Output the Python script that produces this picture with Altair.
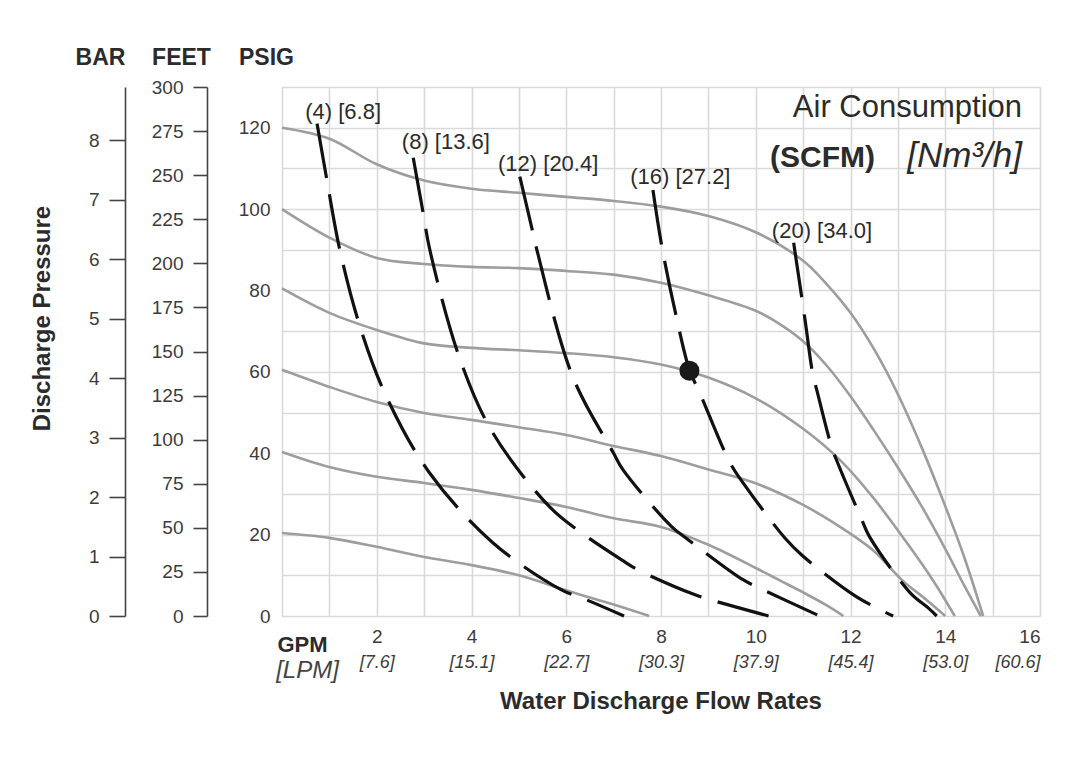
import altair as alt
import pandas as pd

FONT = "Liberation Sans"
INK = "#2b2b2b"
LABEL_INK = "#3c3c3c"

# ---- Pump performance curves (inlet air pressure, psig): flow (GPM) vs discharge (PSIG)
P20_GPM = [0, 1, 2, 3, 4, 5, 6, 7, 7.75]
P20_PSI = [20.4, 19.2, 17.0, 14.5, 12.5, 10.0, 6.3, 2.8, 0]
P40_GPM = [0, 1, 2, 3, 4, 5, 6, 7, 8, 9, 10, 10.5, 11, 11.5, 11.85]
P40_PSI = [40.3, 36.6, 34.2, 32.7, 31.0, 29.0, 26.8, 24.0, 21.9, 17.5, 11.8, 8.8, 5.8, 2.6, 0]
P60_GPM = [0, 1, 2, 3, 4, 5, 6, 7, 8, 9, 10, 11, 11.78, 12.47, 13.1, 13.6, 14.0]
P60_PSI = [60.5, 56.3, 52.6, 49.9, 48.2, 46.4, 44.5, 41.8, 39.3, 36.0, 32.6, 27.3, 21.9, 16.2, 8.7, 4.0, 0]
P80_GPM = [0, 1, 2, 3, 4, 5, 6, 7, 8, 9, 10, 11, 11.78, 12.47, 13.19, 13.74, 14.2]
P80_PSI = [80.5, 74.5, 70.3, 67.0, 65.9, 65.3, 64.6, 63.6, 61.8, 58.6, 53.5, 46.0, 38.3, 29.2, 18.0, 8.8, 0]
P100_GPM = [0, 1, 2, 3, 4, 5, 6, 7, 8, 9, 10, 10.5, 11, 11.5, 12, 12.5, 13, 13.5, 14, 14.4, 14.75]
P100_PSI = [100, 93.0, 88.0, 86.5, 85.8, 85.5, 84.8, 83.9, 81.9, 78.8, 75.0, 71.8, 67.5, 61.5, 54.0, 45.5, 36.5, 27.0, 16.5, 7.5, 0]
P120_GPM = [0, 1, 2, 3, 4, 5, 6, 7, 8, 9, 10, 11, 11.5, 12, 12.5, 13, 13.5, 14, 14.4, 14.8]
P120_PSI = [120, 117.3, 111.0, 107.0, 105.0, 104.0, 103.0, 102.0, 100.6, 98.3, 94.3, 87.3, 81.5, 74.5, 65.5, 54.5, 41.5, 27.0, 14.5, 0]

# ---- Air consumption curves (SCFM)
A4_GPM = [0.74, 0.95, 1.22, 1.65, 2.2, 3.1, 4.45, 5.9, 6.36, 7.22]
A4_PSI = [121, 107, 90, 71, 54, 35.4, 18, 6.4, 4.3, 0]
A8_GPM = [2.77, 2.98, 3.12, 3.76, 4.45, 5.65, 6.29, 7.17, 7.52, 8.72, 9.07, 10.27]
A8_PSI = [112.6, 99, 90, 63, 45, 26.8, 20.7, 13.8, 11.3, 5.2, 3.9, 0]
A12_GPM = [5.02, 5.3, 5.38, 6.14, 7.0, 7.2, 8.23, 8.58, 9.74, 10.09, 11.35]
A12_PSI = [108, 94, 90, 58.7, 40, 35.9, 21.9, 18.7, 8.85, 6.8, 0]
A16_GPM = [7.83, 8.02, 8.33, 8.6, 8.82, 9.46, 9.74, 10.62, 10.97, 12.13, 12.9]
A16_PSI = [104.7, 90.7, 73.2, 60.5, 54.8, 37.6, 32.6, 19.1, 15, 4.7, 0]
A20_GPM = [10.8, 11.04, 11.2, 11.3, 11.6, 11.73, 12.24, 12.4, 13.26, 13.64, 13.82]
A20_PSI = [91.7, 72.8, 59.7, 55, 41.6, 37.6, 23.6, 19.5, 5.7, 2, 0]

AIR_LABELS = ["(4) [6.8]", "(8) [13.6]", "(12) [20.4]", "(16) [27.2]", "(20) [34.0]"]
AIR_LABEL_GPM = [0.49, 2.53, 4.56, 7.35, 10.34]
AIR_LABEL_PSI = [123.9, 116.5, 111.0, 107.9, 94.6]

POINT_GPM = [8.6]
POINT_PSI = [60.3]

# ---- Axis ticks
GPM_GRID = list(range(0, 17))
GPM_TICKS = [2, 4, 6, 8, 10, 12, 14, 16]
LPM_LABELS = ["[7.6]", "[15.1]", "[22.7]", "[30.3]", "[37.9]", "[45.4]", "[53.0]", "[60.6]"]
PSIG_GRID = list(range(0, 131, 10))
FEET_TICKS = list(range(0, 301, 25))
BAR_TICKS = list(range(0, 9))

# ---- Captions inside plot
CAPTION_MAIN = ["Air Consumption"]
CAPTION_UNIT_BOLD = ["(SCFM)"]
CAPTION_UNIT_ITALIC = ["[Nm\u00b3/h]"]

perf_rows = []
for name, xs, ys in [("20", P20_GPM, P20_PSI), ("40", P40_GPM, P40_PSI), ("60", P60_GPM, P60_PSI),
                     ("80", P80_GPM, P80_PSI), ("100", P100_GPM, P100_PSI), ("120", P120_GPM, P120_PSI)]:
    for i, (x, y) in enumerate(zip(xs, ys)):
        perf_rows.append({"series": name, "gpm": x, "psi": y, "i": i})
perf_df = pd.DataFrame(perf_rows)

air_rows = []
for name, xs, ys in [("4", A4_GPM, A4_PSI), ("8", A8_GPM, A8_PSI), ("12", A12_GPM, A12_PSI),
                     ("16", A16_GPM, A16_PSI), ("20", A20_GPM, A20_PSI)]:
    for i, (x, y) in enumerate(zip(xs, ys)):
        air_rows.append({"series": name, "gpm": x, "psi": y, "i": i})
air_df = pd.DataFrame(air_rows)

labels_df = pd.DataFrame({"label": AIR_LABELS, "gpm": AIR_LABEL_GPM, "psi": AIR_LABEL_PSI})
point_df = pd.DataFrame({"gpm": POINT_GPM, "psi": POINT_PSI})

X_SCALE = alt.Scale(domain=[0, 16], nice=False, zero=False)
Y_SCALE = alt.Scale(domain=[0, 130], nice=False)
NOX = alt.X("gpm:Q", scale=X_SCALE, axis=None)
NOY = alt.Y("psi:Q", scale=Y_SCALE, axis=None)

gpm_axis = alt.Axis(
    values=GPM_GRID, grid=True, gridColor="#dadada", gridWidth=1.6,
    ticks=False, domain=False, labelPadding=11, labelFontSize=19, labelFont=FONT,
    labelColor=LABEL_INK, labelOverlap=False,
    labelExpr="(datum.value % 2 == 0 && datum.value > 0) ? datum.label : ''",
    title="GPM", titleFont=FONT, titleFontSize=22, titleFontWeight="bold", titleColor=INK,
    titleAngle=0, titleX=20, titleY=28, titleAlign="center", titleBaseline="middle",
)
psig_axis = alt.Axis(
    orient="left", values=PSIG_GRID, grid=True, gridColor="#dadada", gridWidth=1.6,
    ticks=False, domain=False, labelPadding=12, labelFontSize=19, labelFont=FONT,
    labelColor=LABEL_INK, labelOverlap=False,
    labelExpr="(datum.value % 20 == 0 && datum.value <= 120) ? datum.label : ''",
    title="PSIG", titleFont=FONT, titleFontSize=23, titleFontWeight="bold", titleColor=INK,
    titleAngle=0, titleX=-16, titleY=-30, titleAlign="center", titleBaseline="middle",
)

perf = alt.Chart(perf_df).mark_line(
    interpolate="catmull-rom", color="#9d9d9d", strokeWidth=2.6
).encode(
    x=alt.X("gpm:Q", scale=X_SCALE, axis=gpm_axis),
    y=alt.Y("psi:Q", scale=Y_SCALE, axis=psig_axis),
    detail="series:N", order="i:Q",
)

air = alt.Chart(air_df).mark_line(
    interpolate="catmull-rom", color="#111111", strokeWidth=3.2, strokeDash=[55, 17]
).encode(x=NOX, y=NOY, detail="series:N", order="i:Q")

dot = alt.Chart(point_df).mark_point(
    shape="circle", filled=True, size=400, color="#1a1a1a", opacity=1
).encode(x=NOX, y=NOY)

air_labels = alt.Chart(labels_df).mark_text(
    align="left", baseline="middle", font=FONT, fontSize=22, color=INK
).encode(x=NOX, y=NOY, text="label:N")

cap1 = alt.Chart(pd.DataFrame({"t": CAPTION_MAIN, "gpm": [15.62], "psi": [122.6]})).mark_text(
    align="right", baseline="alphabetic", font=FONT, fontSize=31, color=INK
).encode(x=NOX, y=NOY, text="t:N")
cap2 = alt.Chart(pd.DataFrame({"t": CAPTION_UNIT_BOLD, "gpm": [10.3], "psi": [110.3]})).mark_text(
    align="left", baseline="alphabetic", font=FONT, fontSize=30, fontWeight="bold", color=INK
).encode(x=NOX, y=NOY, text="t:N")
cap3 = alt.Chart(pd.DataFrame({"t": CAPTION_UNIT_ITALIC, "gpm": [15.62], "psi": [110.3]})).mark_text(
    align="right", baseline="alphabetic", font=FONT, fontSize=35, fontStyle="italic", color=INK
).encode(x=NOX, y=NOY, text="t:N")

# FEET axis layer (also carries the LPM axis on x)
lpm_expr = "[" + ",".join("'" + s + "'" for s in LPM_LABELS) + "][round(datum.value / 2) - 1]"
feet_df = pd.DataFrame({"feet": FEET_TICKS, "gpm": [GPM_TICKS[0]] * len(FEET_TICKS)})
feet_layer = alt.Chart(feet_df).mark_point(opacity=0).encode(
    x=alt.X("gpm:Q", scale=X_SCALE, axis=alt.Axis(
        orient="bottom", values=GPM_TICKS, grid=False, ticks=False, domain=False,
        labelPadding=37, labelFontSize=18, labelFont=FONT, labelFontStyle="italic",
        labelColor=LABEL_INK, labelOverlap=False, labelExpr=lpm_expr,
        title="[LPM]", titleFont=FONT, titleFontSize=24, titleFontStyle="italic",
        titleFontWeight="normal", titleColor="#444444", titleAngle=0, titleX=25, titleY=54,
        titleAlign="center", titleBaseline="middle")),
    y=alt.Y("feet:Q", scale=alt.Scale(domain=[0, 300], nice=False), axis=alt.Axis(
        orient="left", offset=75, values=FEET_TICKS, grid=False, ticks=True, tickSize=14,
        tickColor="#444444", tickWidth=1.6, domain=True, domainColor="#444444", domainWidth=1.6,
        labelPadding=10, labelFontSize=19, labelFont=FONT, labelColor=LABEL_INK, labelOverlap=False,
        title="FEET", titleFont=FONT, titleFontSize=23, titleFontWeight="bold", titleColor=INK,
        titleAngle=0, titleX=-26, titleY=-30, titleAlign="center", titleBaseline="middle")),
)

bar_df = pd.DataFrame({"bar": BAR_TICKS, "gpm": [GPM_TICKS[0]] * len(BAR_TICKS)})
bar_layer = alt.Chart(bar_df).mark_point(opacity=0).encode(
    x=NOX,
    y=alt.Y("bar:Q", scale=alt.Scale(domain=[0, 8.9], nice=False), axis=alt.Axis(
        orient="left", offset=157, values=BAR_TICKS, grid=False, ticks=True, tickSize=16,
        tickColor="#444444", tickWidth=1.6, domain=True, domainColor="#444444", domainWidth=1.6,
        labelPadding=10, labelFontSize=19, labelFont=FONT, labelColor=LABEL_INK, labelOverlap=False,
        title="BAR", titleFont=FONT, titleFontSize=23, titleFontWeight="bold", titleColor=INK,
        titleAngle=0, titleX=-25, titleY=-30, titleAlign="center", titleBaseline="middle")),
)

dp_layer = alt.Chart(point_df).mark_point(opacity=0).encode(
    x=NOX,
    y=alt.Y("psi:Q", scale=Y_SCALE, axis=alt.Axis(
        orient="left", offset=240, values=[0], grid=False, ticks=False, domain=False,
        labels=False, title="Discharge Pressure", titleFont=FONT, titleFontSize=24,
        titleFontWeight="bold", titleColor=INK, titleAngle=270, titleX=0, titleY=231,
        titleAlign="center", titleBaseline="middle")),
)

chart = alt.layer(
    perf, air, dot, air_labels, cap1, cap2, cap3, feet_layer, bar_layer, dp_layer
).resolve_scale(x="independent", y="independent").properties(
    width=758, height=529,
    autosize=alt.AutoSizeParams(type="none"),
    padding={"left": 274, "top": 79, "right": 28, "bottom": 110},
    title=alt.TitleParams("Water Discharge Flow Rates", orient="bottom", anchor="middle",
                          frame="group", font=FONT, fontSize=24, fontWeight="bold",
                          color=INK, offset=8),
).configure_view(stroke="#dadada", strokeWidth=1.6).configure(background="white")

chart.save("out.html", embed_options={"renderer": "svg", "actions": False})
